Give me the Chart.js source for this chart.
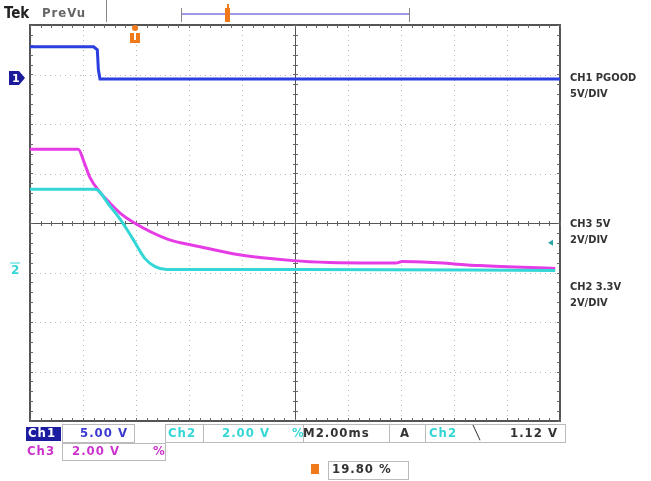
<!DOCTYPE html>
<html>
<head>
<meta charset="utf-8">
<script src="https://cdn.jsdelivr.net/npm/chart.js@4.4.0/dist/chart.umd.min.js"></script>
<style>
  html, body { margin: 0; padding: 0; background: #fff; }
  #scope { display: block; }
</style>
</head>
<body>
<canvas id="scope" width="651" height="481"></canvas>
<script>
// --- Traces, in screen divisions (x: 0..10, y: 0..8 from bottom) ---
const ch1X = [0, 1.20, 1.27, 1.29, 1.32, 10];
const ch1Y = [7.56, 7.56, 7.50, 7.10, 6.91, 6.91];

const ch3X = [0, 0.91, 1.02, 1.13, 1.32, 1.51, 1.70, 1.94, 2.58, 3.21, 3.83, 4.96, 5.66, 6.50, 6.90, 7.02, 7.60, 8.49, 9.91];
const ch3Y = [5.49, 5.49, 5.23, 4.92, 4.62, 4.40, 4.20, 4.02, 3.68, 3.52, 3.38, 3.24, 3.20, 3.19, 3.19, 3.22, 3.20, 3.14, 3.08];

const ch2X = [0, 1.23, 1.51, 1.70, 1.94, 2.17, 2.36, 2.58, 5.09, 9.91];
const ch2Y = [4.68, 4.68, 4.34, 4.08, 3.68, 3.28, 3.12, 3.06, 3.06, 3.04];

// channel reference markers (divisions)
const ch1Ground = 6.93;
const ch2Ground = 3.04;
const trigLevel = 3.6;
const trigPos = 2.0;

const rightLabels = [
    ["CH1 PGOOD", "5V/DIV", 6.93],
    ["CH3 5V", "2V/DIV", 3.98],
    ["CH2 3.3V", "2V/DIV", 2.7]
];

const BLUE = "#2b3fe0";
const MAGENTA = "#e63ce6";
const CYAN = "#35d6d6";

function toPoints(xs, ys) {
    return xs.map((x, i) => ({ x: x, y: ys[i] }));
}

// --- Graticule + screen annotations ---
const scopePlugin = {
    id: "scope",
    beforeDatasetsDraw(chart) {
        const ctx = chart.ctx;
        const xs = chart.scales.x, ys = chart.scales.y;
        const L = xs.getPixelForValue(0), R = xs.getPixelForValue(10);
        const T = ys.getPixelForValue(8), B = ys.getPixelForValue(0);
        const cx = xs.getPixelForValue(5), cy = ys.getPixelForValue(4);
        ctx.save();

        // dotted divisions
        ctx.strokeStyle = "#b8b8b8";
        ctx.lineWidth = 1;
        ctx.setLineDash([1, 4]);
        for (let i = 1; i < 10; i++) {
            if (i === 5) continue;
            const px = Math.round(xs.getPixelForValue(i)) + 0.5;
            ctx.beginPath(); ctx.moveTo(px, T); ctx.lineTo(px, B); ctx.stroke();
        }
        for (let j = 1; j < 8; j++) {
            if (j === 4) continue;
            const py = Math.round(ys.getPixelForValue(j)) + 0.5;
            ctx.beginPath(); ctx.moveTo(L, py); ctx.lineTo(R, py); ctx.stroke();
        }
        ctx.setLineDash([]);

        // center cross + border
        ctx.strokeStyle = "#555";
        ctx.lineWidth = 1;
        ctx.beginPath();
        ctx.moveTo(Math.round(cx) + 0.5, T); ctx.lineTo(Math.round(cx) + 0.5, B);
        ctx.moveTo(L, Math.round(cy) + 0.5); ctx.lineTo(R, Math.round(cy) + 0.5);
        ctx.stroke();
        ctx.lineWidth = 2;
        ctx.strokeRect(L, T, R - L, B - T);

        // minor ticks
        ctx.lineWidth = 1;
        ctx.strokeStyle = "#666";
        ctx.beginPath();
        for (let v = 0; v <= 10.001; v += 0.2) {
            const px = Math.round(xs.getPixelForValue(v)) + 0.5;
            ctx.moveTo(px, cy - 2); ctx.lineTo(px, cy + 3);
            ctx.moveTo(px, T); ctx.lineTo(px, T + 3);
            ctx.moveTo(px, B); ctx.lineTo(px, B - 3);
        }
        for (let v = 0; v <= 8.001; v += 0.2) {
            const py = Math.round(ys.getPixelForValue(v)) + 0.5;
            ctx.moveTo(cx - 2, py); ctx.lineTo(cx + 3, py);
            ctx.moveTo(L, py); ctx.lineTo(L + 3, py);
            ctx.moveTo(R, py); ctx.lineTo(R - 3, py);
        }
        ctx.stroke();
        ctx.restore();
    },
    afterDraw(chart) {
        const ctx = chart.ctx;
        const xs = chart.scales.x, ys = chart.scales.y;
        const R = xs.getPixelForValue(10);
        const T = ys.getPixelForValue(8);
        ctx.save();
        ctx.textBaseline = "middle";

        // header
        ctx.fillStyle = "#222";
        ctx.font = "bold 15px 'DejaVu Sans Condensed', 'DejaVu Sans'";
        ctx.fillText("Tek", 4, 14);
        ctx.fillStyle = "#666";
        ctx.font = "bold 13px 'DejaVu Sans Condensed', 'DejaVu Sans'";
        ctx.letterSpacing = "1px";
        ctx.fillText("PreVu", 42, 14);
        ctx.letterSpacing = "0px";
        ctx.strokeStyle = "#888";
        ctx.lineWidth = 1;
        ctx.beginPath();
        ctx.moveTo(106.5, 0); ctx.lineTo(106.5, 22);
        ctx.moveTo(181.5, 8); ctx.lineTo(181.5, 22);
        ctx.moveTo(409.5, 8); ctx.lineTo(409.5, 22);
        ctx.stroke();
        ctx.strokeStyle = "#9a9ae6";
        ctx.lineWidth = 2;
        ctx.beginPath(); ctx.moveTo(182, 14); ctx.lineTo(409, 14); ctx.stroke();
        ctx.fillStyle = "#f07a1a";
        ctx.fillRect(225, 8, 5, 14);
        ctx.fillRect(227, 4, 2, 4);

        // trigger position marker
        const tp = xs.getPixelForValue(trigPos) - 1;
        ctx.fillStyle = "#f07a1a";
        ctx.beginPath(); ctx.arc(tp, T + 3, 3, 0, Math.PI * 2); ctx.fill();
        ctx.fillRect(tp - 5, T + 8, 10, 10);
        ctx.fillStyle = "#fff";
        ctx.fillRect(tp - 1, T + 8, 2, 7);

        // channel markers
        const g1 = ys.getPixelForValue(ch1Ground);
        ctx.fillStyle = "#1c1c9a";
        ctx.beginPath();
        ctx.moveTo(9, g1 - 7); ctx.lineTo(19, g1 - 7); ctx.lineTo(25, g1);
        ctx.lineTo(19, g1 + 7); ctx.lineTo(9, g1 + 7); ctx.closePath(); ctx.fill();
        ctx.fillStyle = "#fff";
        ctx.font = "bold 11px 'DejaVu Sans'";
        ctx.fillText("1", 12, g1 + 1);

        const g2 = ys.getPixelForValue(ch2Ground);
        ctx.fillStyle = CYAN;
        ctx.font = "bold 12px 'DejaVu Sans'";
        ctx.fillText("2", 11, g2);
        ctx.fillRect(10, g2 - 8, 10, 1);

        const tl = ys.getPixelForValue(trigLevel);
        ctx.fillStyle = "#2aa6a6";
        ctx.beginPath();
        ctx.moveTo(R - 12, tl); ctx.lineTo(R - 7, tl - 3); ctx.lineTo(R - 7, tl + 3);
        ctx.closePath(); ctx.fill();

        // right-hand labels
        ctx.fillStyle = "#333";
        ctx.font = "bold 11px 'DejaVu Sans Condensed', 'DejaVu Sans'";
        rightLabels.forEach(l => {
            const py = ys.getPixelForValue(l[2]);
            ctx.fillText(l[0], R + 10, py);
            ctx.fillText(l[1], R + 10, py + 16);
        });

        // readout bar
        ctx.font = "bold 13px 'DejaVu Sans Condensed', 'DejaVu Sans'";
        ctx.letterSpacing = "1px";
        ctx.fillStyle = "#1c1ca0";
        ctx.fillRect(26, 427, 35, 14);
        ctx.fillStyle = "#fff";
        ctx.fillText("Ch1", 28, 434);
        ctx.fillStyle = "#3a3ad0";
        ctx.fillText("5.00 V", 80, 434);
        ctx.fillStyle = CYAN;
        ctx.fillText("Ch2", 168, 434);
        ctx.fillText("2.00 V", 222, 434);
        ctx.fillText("%", 292, 434);
        ctx.fillStyle = "#333";
        ctx.fillText("M2.00ms", 303, 434);
        ctx.fillText("A", 400, 434);
        ctx.fillStyle = CYAN;
        ctx.fillText("Ch2", 429, 434);
        ctx.fillStyle = "#333";
        ctx.fillText("\u2572", 473, 434);
        ctx.fillText("1.12 V", 510, 434);

        ctx.fillStyle = "#cc33cc";
        ctx.fillText("Ch3", 27, 452);
        ctx.fillText("2.00 V", 72, 452);
        ctx.fillText("%", 153, 452);

        ctx.fillStyle = "#f07a1a";
        ctx.fillRect(311, 464, 8, 10);
        ctx.fillStyle = "#333";
        ctx.fillText("19.80 %", 332, 470);
        ctx.letterSpacing = "0px";

        ctx.strokeStyle = "#bbb";
        ctx.lineWidth = 1;
        ctx.strokeRect(62.5, 424.5, 72, 18);
        ctx.strokeRect(165.5, 424.5, 38, 18);
        ctx.strokeRect(203.5, 424.5, 100, 18);
        ctx.strokeRect(303.5, 424.5, 86, 18);
        ctx.strokeRect(389.5, 424.5, 36, 18);
        ctx.strokeRect(425.5, 424.5, 140, 18);
        ctx.strokeRect(62.5, 443.5, 103, 17);
        ctx.strokeRect(328.5, 461.5, 80, 18);
        ctx.restore();
    }
};

const traceStyle = color => ({
    showLine: true,
    borderColor: color,
    backgroundColor: color,
    borderWidth: 3,
    pointRadius: 0,
    cubicInterpolationMode: "monotone",
    fill: false
});

new Chart(document.getElementById("scope"), {
    type: "scatter",
    data: {
        datasets: [
            Object.assign({ label: "Ch2", data: toPoints(ch2X, ch2Y) }, traceStyle(CYAN)),
            Object.assign({ label: "Ch3", data: toPoints(ch3X, ch3Y) }, traceStyle(MAGENTA)),
            Object.assign({ label: "Ch1", data: toPoints(ch1X, ch1Y) }, traceStyle(BLUE), { cubicInterpolationMode: "default", tension: 0 })
        ]
    },
    options: {
        responsive: false,
        animation: false,
        devicePixelRatio: 1,
        layout: { padding: { left: 30, top: 25, right: 91, bottom: 60 } },
        scales: {
            x: { type: "linear", min: 0, max: 10, display: false },
            y: { type: "linear", min: 0, max: 8, display: false }
        },
        plugins: {
            legend: { display: false },
            tooltip: { enabled: false }
        }
    },
    plugins: [scopePlugin]
});
</script>
</body>
</html>
